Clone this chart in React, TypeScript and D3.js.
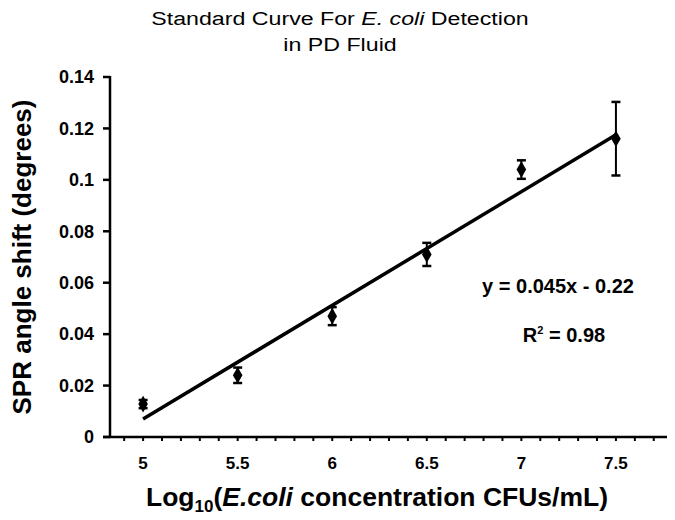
import React from "react";
import * as d3 from "d3";

const concentrations = [5, 5.5, 6, 6.5, 7, 7.5];
const angleShift = [0.0128, 0.024, 0.047, 0.071, 0.104, 0.116];
const errors = [0.0016, 0.003, 0.0035, 0.0045, 0.0036, 0.0143];
const fitSlope = 0.0442;
const fitIntercept = -0.214;
const xMajorTicks = [5, 5.5, 6, 6.5, 7, 7.5];
const xMinorTicks = d3.range(49, 78).map((d) => d / 10);
const yTicks = [0, 0.02, 0.04, 0.06, 0.08, 0.1, 0.12, 0.14];
const yTickLabels = ["0", "0.02", "0.04", "0.06", "0.08", "0.1", "0.12", "0.14"];

const W = 675;
const H = 520;
const FONT = "'Liberation Sans', Arial, sans-serif";

export default function App() {
  const x = d3.scaleLinear().domain([4.825, 7.77]).range([110, 667]);
  const y = d3.scaleLinear().domain([0, 0.14]).range([437, 77]);
  const x0 = x.range()[0];
  const y0 = y(0);
  const fitX = [concentrations[0], concentrations[concentrations.length - 1]];
  const line = d3
    .line<number>()
    .x((d) => x(d))
    .y((d) => y(fitSlope * d + fitIntercept));
  const diamond = d3.symbol().type(d3.symbolDiamond).size(80)();

  return (
    <svg
      width={W}
      height={H}
      style={{ position: "absolute", left: 0, top: 0, background: "#fff" }}
      fontFamily={FONT}
    >
      <rect width={W} height={H} fill="#fff" />
      {/* Title */}
      <g transform="translate(340,0) scale(1.22,1)">
        <text x={0} y={25} textAnchor="middle" fontSize={19} fill="#000">
          Standard Curve For <tspan fontStyle="italic">E. coli</tspan> Detection
        </text>
        <text x={0} y={51} textAnchor="middle" fontSize={19} fill="#000">
          in PD Fluid
        </text>
      </g>

      {/* Fit line */}
      <path d={line(fitX) || ""} stroke="#000" strokeWidth={3.5} fill="none" />

      {/* Error bars and points */}
      {concentrations.map((c, i) => {
        const cx = x(c);
        const top = y(angleShift[i] + errors[i]);
        const bot = y(angleShift[i] - errors[i]);
        return (
          <g key={c}>
            <line x1={cx} x2={cx} y1={top} y2={bot} stroke="#000" strokeWidth={2} />
            <line x1={cx - 4.5} x2={cx + 4.5} y1={top} y2={top} stroke="#000" strokeWidth={2.5} />
            <line x1={cx - 4.5} x2={cx + 4.5} y1={bot} y2={bot} stroke="#000" strokeWidth={2.5} />
            <path d={diamond || ""} transform={`translate(${cx},${y(angleShift[i])})`} fill="#000" />
          </g>
        );
      })}

      {/* Y axis */}
      <line x1={x0} x2={x0} y1={y(0.14) - 1} y2={y0 + 1} stroke="#000" strokeWidth={2.5} />
      {yTicks.map((t, i) => (
        <g key={t}>
          <line x1={x0 - 7} x2={x0} y1={y(t)} y2={y(t)} stroke="#000" strokeWidth={2.5} />
          <text
            x={x0 - 16}
            y={y(t)}
            dy="0.35em"
            textAnchor="end"
            fontSize={18}
            fontWeight="bold"
            fill="#000"
          >
            {yTickLabels[i]}
          </text>
        </g>
      ))}

      {/* X axis */}
      <line x1={x0 - 7} x2={x.range()[1]} y1={y0} y2={y0} stroke="#000" strokeWidth={2.5} />
      {xMinorTicks.map((t) => (
        <line key={t} x1={x(t)} x2={x(t)} y1={y0} y2={y0 + 4} stroke="#000" strokeWidth={2} />
      ))}
      {xMajorTicks.map((t) => (
        <text
          key={t}
          x={x(t)}
          y={469}
          textAnchor="middle"
          fontSize={17}
          fontWeight="bold"
          fill="#000"
        >
          {String(t)}
        </text>
      ))}

      {/* X axis title */}
      <text x={377} y={506} textAnchor="middle" fontSize={26.5} fontWeight="bold" fill="#000">
        Log
        <tspan fontSize={17} dy={6}>10</tspan>
        <tspan dy={-6}>(</tspan>
        <tspan fontStyle="italic">E.coli</tspan> concentration CFUs/mL)
      </text>

      {/* Y axis title */}
      <text
        transform="translate(31,257) rotate(-90)"
        textAnchor="middle"
        fontSize={26}
        fontWeight="bold"
        fill="#000"
      >
        SPR angle shift (degrees)
      </text>

      {/* Annotations */}
      <text x={558} y={293} textAnchor="middle" fontSize={20} fontWeight="bold" fill="#000">
        y = 0.045x - 0.22
      </text>
      <text x={564} y={342} textAnchor="middle" fontSize={20} fontWeight="bold" fill="#000">
        R<tspan fontSize={11} dy={-8}>2</tspan>
        <tspan dy={8}> = 0.98</tspan>
      </text>
    </svg>
  );
}
